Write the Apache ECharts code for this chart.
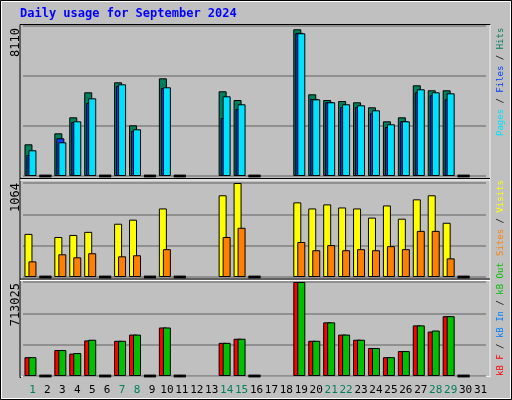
<!DOCTYPE html>
<html>
<head>
<meta charset="utf-8">
<script src="https://cdn.jsdelivr.net/npm/echarts@6/dist/echarts.min.js"></script>
<style>
html,body{margin:0;padding:0;background:#c0c0c0;}
#main{width:512px;height:400px;}
</style>
</head>
<body>
<div id="main"></div>
<script>
var days = [];
for(var d = 1; d <= 31; d++){ days.push(String(d)); }
var weekend = ['1','7','8','14','15','21','22','28','29'];

// null = no bar drawn, 0 = zero line
var hits  = [1714,0,2308,3173,4525,0,5066,2741,0,5282,0,null,null,4580,4109,0,null,null,7932,4417,4109,4055,3985,3714,2957,3173,4904,4634,4634,0,null];
var files = [1135,0,2038,2920,3947,0,4866,2433,0,4758,0,null,null,3136,3623,0,null,null,7740,4163,3990,3731,3731,3390,2649,2957,4525,4363,4146,0,null];
var pages = [1390,0,1822,2957,4200,0,4958,2525,0,4796,0,null,null,4309,3877,0,null,null,7716,4146,3985,3877,3823,3552,2795,2957,4688,4525,4471,0,null];
var visits= [488,0,453,476,511,0,603,649,0,776,0,null,null,925,1064,0,null,null,845,776,822,787,776,672,810,660,879,925,614,0,null];
var sites = [177,0,257,223,269,0,234,246,0,315,0,null,null,453,557,0,null,null,396,303,361,303,315,303,349,315,522,522,211,0,null];
var kbF   = [142600,0,197000,170000,270000,0,267000,314000,0,368000,0,null,null,251500,282600,0,null,null,713025,267000,407000,314000,275000,212600,142600,189000,383800,337000,453800,0,null];
var kbOut = [142600,0,197000,174000,275000,0,267000,314000,0,368000,0,null,null,251500,282600,0,null,null,713025,267000,407000,314000,275000,212600,142600,189000,383800,345000,453800,0,null];
var maxHits = 8110, maxVisits = 1064, maxKB = 713025;

var chart = echarts.init(document.getElementById('main'));
var L = 23, R = 26;
var mono = 'DejaVu Sans Mono';
var grids = [
	{left:L, right:R, top:26, height:150},
	{left:L, right:R, top:183, height:94},
	{left:L, right:R, top:282, height:94}
];
function xa(i){
	return {
		type:'category', gridIndex:i, data:days, boundaryGap:true,
		axisLine:{show:false}, axisTick:{show:false},
		axisLabel:{show:i==2, interval:0, margin:9, padding:[0,0,0,4], fontFamily:mono, fontSize:11,
			formatter:function(v){ return weekend.indexOf(v)>=0 ? '{w|'+v+'}' : '{n|'+v+'}'; },
			rich:{w:{color:'#00805c',fontFamily:mono,fontSize:11},n:{color:'#000',fontFamily:mono,fontSize:11}}}
	};
}
function ya(i,max){
	return {type:'value', gridIndex:i, min:0, max:max, interval:max/3,
		axisLabel:{show:false}, axisLine:{show:false}, axisTick:{show:false},
		splitLine:{lineStyle:{color:'#808080',width:1.5}}};
}
function bar(name,data,color,xi,gap){
	return {name:name, type:'bar', xAxisIndex:xi, yAxisIndex:xi, data:data, barWidth:8, barGap:gap,
		itemStyle:{color:color, borderColor:'#000', borderWidth:1}, animation:false};
}
function zeros(data,xi){
	return {type:'scatter', xAxisIndex:xi, yAxisIndex:xi, symbol:'rect', symbolSize:[12,3],
		data:data.map(function(v){ return v===0 ? 0 : null; }), itemStyle:{color:'#000'}, animation:false};
}

var series = [
	bar('Hits',hits,'#00805c',0,'-75%'),
	bar('Files',files,'#0040ff',0,'-75%'),
	bar('Pages',pages,'#00e0ff',0,'-75%'),
	zeros(hits,0),
	bar('Visits',visits,'#ffff00',1,'-50%'),
	bar('Sites',sites,'#ff8000',1,'-50%'),
	zeros(visits,1),
	bar('kB F',kbF,'#ff0000',2,'-50%'),
	bar('kB Out',kbOut,'#00c000',2,'-50%'),
	zeros(kbF,2)
];

function st(c){ return {fill:c, fontFamily:mono, fontSize:9}; }
function vlabel(x,y,rich,text){
	return {type:'text', x:x, y:y, rotation:Math.PI/2,
		style:{text:text, rich:rich, fill:'#000', font:'9px "DejaVu Sans Mono"', align:'left', verticalAlign:'middle'}};
}
var graphic = [
	{type:'rect', shape:{x:0.5,y:0.5,width:511,height:399}, style:{fill:'none',stroke:'#000',lineWidth:1}},
	{type:'rect', shape:{x:1.5,y:1.5,width:509,height:397}, style:{fill:'none',stroke:'#fff',lineWidth:1}},
	{type:'rect', shape:{x:20,y:24.5,width:470,height:353}, style:{fill:'none',stroke:'#000',lineWidth:1}},
	{type:'polyline', shape:{points:[[21,377],[490,377],[490,25]]}, style:{fill:'none',stroke:'#fff',lineWidth:1.5}},
	{type:'line', shape:{x1:20,y1:178.5,x2:490,y2:178.5}, style:{stroke:'#000',lineWidth:1}},
	{type:'line', shape:{x1:20,y1:180,x2:490,y2:180}, style:{stroke:'#fff',lineWidth:1}},
	{type:'line', shape:{x1:20,y1:279,x2:490,y2:279}, style:{stroke:'#000',lineWidth:1}},
	{type:'line', shape:{x1:20,y1:280.5,x2:490,y2:280.5}, style:{stroke:'#fff',lineWidth:1}},
	{type:'text', x:20, y:8, style:{text:'Daily usage for September 2024', fill:'#0000ff', font:'bold 12px "DejaVu Sans Mono"'}},
	{type:'text', x:16, y:28, rotation:Math.PI/2, style:{text:String(maxHits), fill:'#000', font:'12px "DejaVu Sans Mono"', align:'right', verticalAlign:'middle'}},
	{type:'text', x:16, y:183, rotation:Math.PI/2, style:{text:String(maxVisits), fill:'#000', font:'12px "DejaVu Sans Mono"', align:'right', verticalAlign:'middle'}},
	{type:'text', x:16, y:283, rotation:Math.PI/2, style:{text:String(maxKB), fill:'#000', font:'12px "DejaVu Sans Mono"', align:'right', verticalAlign:'middle'}},
	vlabel(501,136,{p:st('#00e0ff'),f:st('#0040ff'),h:st('#00805c'),s:st('#000')},
		'{p|Pages}{s| / }{f|Files}{s| / }{h|Hits}'),
	vlabel(501,256,{s:st('#ff8000'),v:st('#ffff00'),d:st('#000')},
		'{s|Sites}{d| / }{v|Visits}'),
	vlabel(501,376,{r:st('#ff0000'),b:st('#0080ff'),g:st('#00c000'),d:st('#000')},
		'{r|kB F}{d| / }{b|kB In}{d| / }{g|kB Out}')
];

chart.setOption({
	backgroundColor:'#c0c0c0',
	animation:false,
	grid:grids,
	xAxis:[xa(0),xa(1),xa(2)],
	yAxis:[ya(0,maxHits),ya(1,maxVisits),ya(2,maxKB)],
	series:series,
	graphic:graphic
});
</script>
</body>
</html>
